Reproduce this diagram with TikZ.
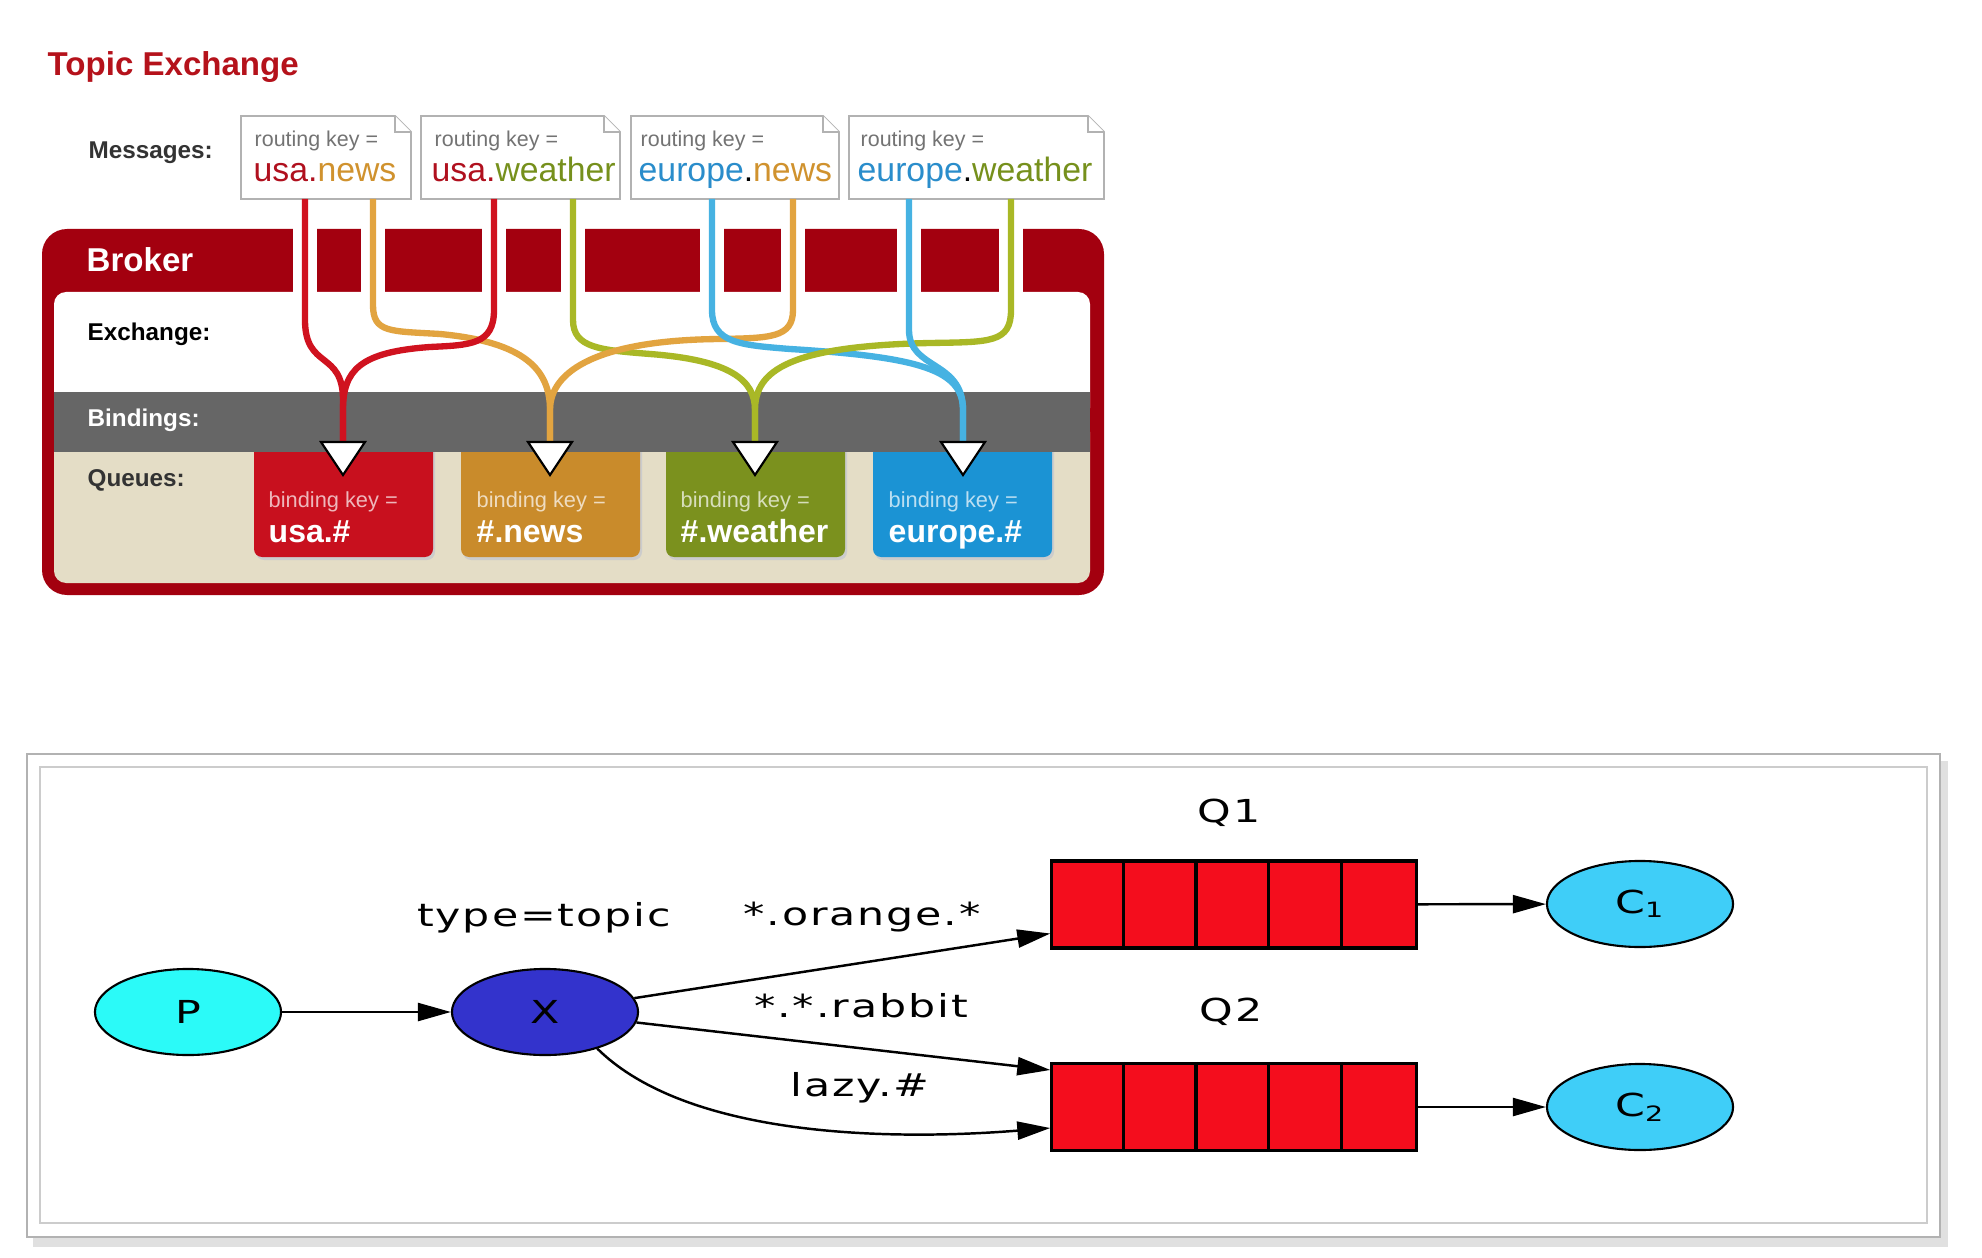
\documentclass[tikz,border=0pt]{standalone}
\usepackage{fontspec}
\setmainfont{Liberation Sans}
\newfontfamily\dotfont[FakeStretch=1.35,LetterSpace=6]{DejaVu Sans}
\usetikzlibrary{shapes.geometric,arrows.meta,positioning}

\definecolor{brokerred}{HTML}{A3000F}
\definecolor{titlered}{HTML}{B5121B}
\definecolor{usared}{HTML}{C8101E}
\definecolor{newsorange}{HTML}{C98B2B}
\definecolor{weathergreen}{HTML}{7B911E}
\definecolor{europeblue}{HTML}{1B93D4}
\definecolor{usatxt}{HTML}{B0101E}
\definecolor{newstxt}{HTML}{D0922E}
\definecolor{weathertxt}{HTML}{76901C}
\definecolor{europetxt}{HTML}{2A8DCB}
\definecolor{lred}{HTML}{D0121F}
\definecolor{lorange}{HTML}{E2A440}
\definecolor{lgreen}{HTML}{A9B826}
\definecolor{lblue}{HTML}{46B2E2}
\definecolor{bindgray}{HTML}{666666}
\definecolor{queuebeige}{HTML}{E4DDC6}
\definecolor{pcyan}{HTML}{2BFAF8}
\definecolor{xblue}{HTML}{3333CC}
\definecolor{cblue}{HTML}{3FCEF8}
\definecolor{qred}{HTML}{F40D1D}

\tikzset{
  side/.style={anchor=west,inner sep=0pt,font=\fontsize{6.9}{8}\selectfont\bfseries},
  rkey/.style={anchor=base west,inner sep=0pt,text=black!55,font=\fontsize{6.1}{7}\selectfont},
  rval/.style={anchor=base west,inner sep=0pt,font=\fontsize{9.6}{11}\selectfont},
  bkey/.style={anchor=base west,inner sep=0pt,font=\fontsize{6.2}{7}\selectfont},
  bval/.style={anchor=base west,inner sep=0pt,text=white,font=\fontsize{9.1}{11}\selectfont\bfseries},
  msgbox/.style={draw=black!30,fill=white,line width=0.5pt},
  route/.style={line width=1.8pt},
  ell/.style={ellipse,draw,line width=0.6pt,minimum width=1.86cm,minimum height=0.86cm,inner sep=0pt,font=\dotfont\fontsize{9}{11}\selectfont},
  qbx/.style={draw,fill=qred,line width=0.9pt,minimum width=3.64cm,minimum height=0.87cm,inner sep=0pt},
  dotlbl/.style={font=\dotfont\fontsize{9}{11}\selectfont,inner sep=0pt},
  edge/.style={line width=0.7pt,-{Triangle[length=0.33cm,width=0.18cm]}}
}

\begin{document}
\begin{tikzpicture}[x=0.01cm,y=-0.01cm]
  \useasboundingbox (0,0) rectangle (1982,1258);
  \fill[white] (0,0) rectangle (1982,1258);

  \node[anchor=base west,inner sep=0pt,text=titlered,font=\fontsize{9.4}{11}\selectfont\bfseries] (title) at (47,76) {Topic Exchange};
  \node[side,text=black!80] (messages) at (88,153) {Messages:};

  \foreach \l/\r in {241/411,421/620,631/839,849/1104} {
    \draw[msgbox] (\l,116) -- (\r-16,116) -- (\r,132) -- (\r,199) -- (\l,199) -- cycle;
    \draw[msgbox] (\r-16,116) -- (\r-16,132) -- (\r,132);
  }
  \node[rkey] (k1) at (254,147) {routing key =};
  \node[rkey] (k2) at (434,147) {routing key =};
  \node[rkey] (k3) at (640,147) {routing key =};
  \node[rkey] (k4) at (860,147) {routing key =};
  \node[rval] (v1) at (253,182) {\textcolor{usatxt}{usa.}\textcolor{newstxt}{news}};
  \node[rval] (v2) at (431,182) {\textcolor{usatxt}{usa.}\textcolor{weathertxt}{weather}};
  \node[rval] (v3) at (638,182) {\textcolor{europetxt}{europe}.\textcolor{newstxt}{news}};
  \node[rval] (v4) at (857,182) {\textcolor{europetxt}{europe}.\textcolor{weathertxt}{weather}};

  \fill[brokerred,rounded corners=0.25cm] (42,229) rectangle (1104,595);
  \fill[white,rounded corners=0.12cm] (54,292) rectangle (1090,420);
  \fill[queuebeige,rounded corners=0.12cm] (54,420) rectangle (1090,583);
  \foreach \gx in {305,373,494,573,712,793,909,1011}
    \fill[white] (\gx-12,226) rectangle (\gx+12,293);

  \foreach \l/\c in {254/usared,461/newsorange,666/weathergreen,873/europeblue} {
    \fill[black!20,rounded corners=0.08cm] (\l+2,430) rectangle (\l+181,560);
    \fill[\c,rounded corners=0.08cm] (\l,430) rectangle (\l+179,557);
  }
  \fill[bindgray] (54,392) rectangle (1090,452);

  \node[anchor=west,inner sep=0pt,text=white,font=\fontsize{9.4}{11}\selectfont\bfseries] (broker) at (86,260) {Broker};
  \node[side] (exchange) at (87,334) {Exchange:};
  \node[side,text=white] (bindings) at (87,420) {Bindings:};
  \node[side,text=black!80] (queues) at (87,480) {Queues:};

  \node[bkey,text=white!70!usared] (b1) at (268,508) {binding key =};
  \node[bkey,text=white!70!newsorange] (b2) at (476,508) {binding key =};
  \node[bkey,text=white!70!weathergreen] (b3) at (680,508) {binding key =};
  \node[bkey,text=white!70!europeblue] (b4) at (888,508) {binding key =};
  \node[bval] (n1) at (268,542) {usa.\#};
  \node[bval] (n2) at (476,542) {\#.news};
  \node[bval] (n3) at (680,542) {\#.weather};
  \node[bval] (n4) at (888,542) {europe.\#};

  \foreach \n/\sx in {s1/305,s2/373,s3/494,s4/573,s5/712,s6/793,s7/909,s8/1011}
    \coordinate (\n) at (\sx,199);
  \foreach \n/\tx in {t1/343,t2/550,t3/755,t4/963}
    \coordinate (\n) at (\tx,442);

  \draw[route,lred] (s1) -- (305,320) .. controls (305,370) and (343,350) .. (343,400) -- (t1);
  \draw[route,lorange] (s2) -- (373,305) .. controls (373,333) and (390,331) .. (440,334) .. controls (525,342) and (550,370) .. (550,410) -- (t2);
  \draw[route,lred] (s3) -- (494,310) .. controls (494,345) and (470,345) .. (430,347) .. controls (360,352) and (343,370) .. (343,410) -- (t1);
  \draw[route,lgreen] (s4) -- (573,320) .. controls (573,348) and (600,350) .. (650,354) .. controls (730,360) and (755,380) .. (755,410) -- (t3);
  \draw[route,lorange] (s6) -- (793,310) .. controls (793,338) and (770,338) .. (720,339) .. controls (600,340) and (550,370) .. (550,410) -- (t2);
  \draw[route,lblue] (s5) -- (712,310) .. controls (712,343) and (740,345) .. (790,349) .. controls (920,357) and (963,370) .. (963,410) -- (t4);
  \draw[route,lgreen] (s8) -- (1011,310) .. controls (1011,343) and (990,342) .. (930,343) .. controls (790,346) and (755,370) .. (755,410) -- (t3);
  \draw[route,lblue] (s7) -- (909,330) .. controls (909,370) and (963,360) .. (963,410) -- (t4);

  \foreach \t in {t1,t2,t3,t4}
    \draw[fill=white,line width=0.6pt] (\t) ++(-22,0) -- ++(44,0) -- ++(-22,33) -- cycle;

  \fill[black!12] (33,761) rectangle (1948,1247);
  \draw[fill=white,draw=black!30,line width=0.8pt] (27,754) rectangle (1940,1237);
  \draw[draw=black!20,line width=0.6pt] (40,767) rectangle (1927,1223);

  \node[ell,fill=pcyan] (p) at (188,1012) {P};
  \node[ell,fill=xblue] (x) at (545,1012) {X};
  \node[qbx] (q1) at (1234,904.5) {};
  \node[qbx] (q2) at (1234,1107) {};
  \foreach \i in {1,...,4} {
    \draw[line width=0.9pt] ([xshift=\i*0.728cm]q1.north west) -- ([xshift=\i*0.728cm]q1.south west);
    \draw[line width=0.9pt] ([xshift=\i*0.728cm]q2.north west) -- ([xshift=\i*0.728cm]q2.south west);
  }
  \node[ell,fill=cblue] (c1) at (1640,904) {C\textsubscript{1}};
  \node[ell,fill=cblue] (c2) at (1640,1107) {C\textsubscript{2}};

  \node[dotlbl] (q1lbl) at (1229,813) {Q1};
  \node[dotlbl] (q2lbl) at (1231,1012) {Q2};
  \node[dotlbl] (type) at (544,918) {type=topic};
  \node[dotlbl] (orange) at (862,917) {*.orange.*};
  \node[dotlbl] (rabbit) at (861,1006) {*.*.rabbit};
  \node[dotlbl] (lazy) at (860,1088) {lazy.\#};

  \draw[edge] (p) -- (x);
  \draw[edge] (x) -- ([yshift=-0.29cm]q1.west);
  \draw[edge] (x) -- ([yshift=0.37cm]q2.west);
  \draw[edge] (x.-35) .. controls (690,1140) and (900,1140) .. ([yshift=-0.21cm]q2.west);
  \draw[edge] (q1) -- (c1);
  \draw[edge] (q2) -- (c2);
\end{tikzpicture}
\end{document}
